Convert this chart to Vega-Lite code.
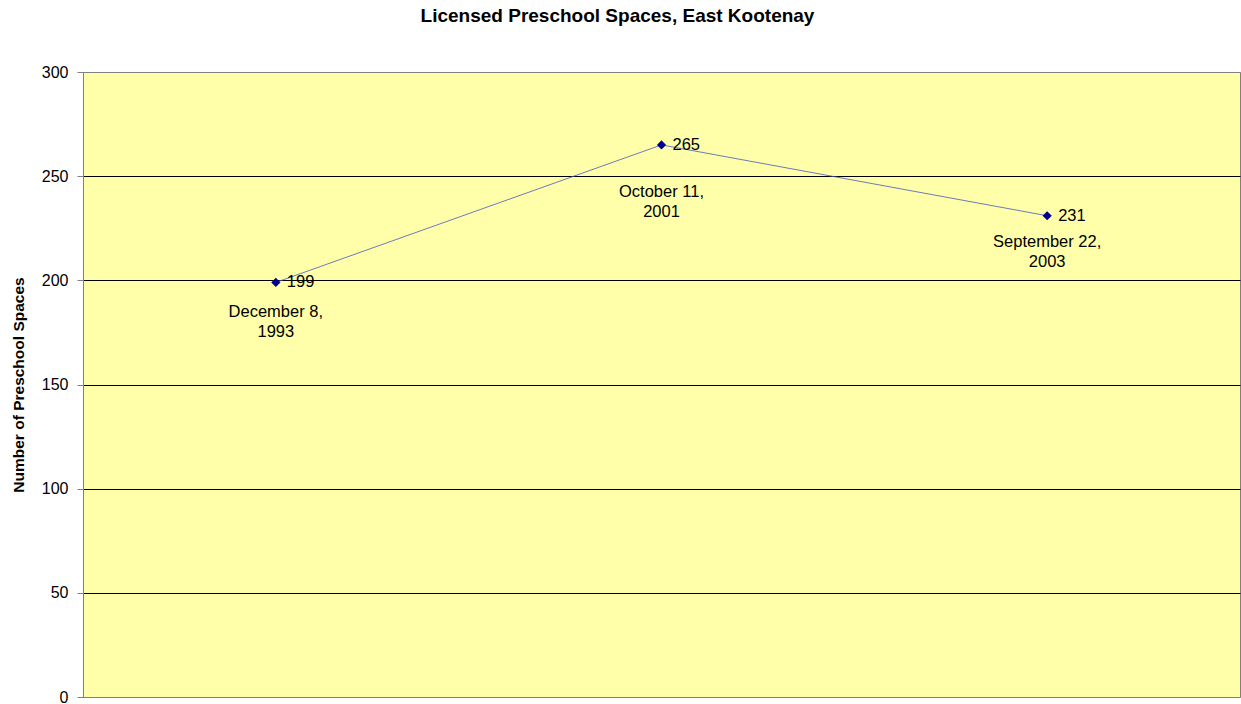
{
  "$schema": "https://vega.github.io/schema/vega-lite/v6.json",
  "width": 1157,
  "height": 625,
  "autosize": {"type": "none"},
  "padding": {"left": 83, "top": 72, "right": 1, "bottom": 7},
  "background": "white",
  "title": {
    "text": "Licensed Preschool Spaces, East Kootenay",
    "font": "Liberation Sans",
    "fontSize": 19,
    "fontWeight": "bold",
    "color": "black",
    "anchor": "middle",
    "dx": -44,
    "offset": 38,
    "limit": 0
  },
  "config": {
    "view": {"fill": "#FFFFAA", "stroke": "#808080", "strokeWidth": 1},
    "text": {"font": "Liberation Sans", "fontSize": 16.5, "color": "black"}
  },
  "data": {
    "values": [
      {"date": "December 8, 1993", "label": "December 8,\n1993", "spaces": 199},
      {"date": "October 11, 2001", "label": "October 11,\n2001", "spaces": 265},
      {"date": "September 22, 2003", "label": "September 22,\n2003", "spaces": 231}
    ]
  },
  "encoding": {
    "x": {"field": "date", "type": "nominal", "sort": null, "scale": {"type": "point", "padding": 0.5}, "axis": null},
    "y": {
      "field": "spaces",
      "type": "quantitative",
      "scale": {"domain": [0, 300], "nice": false},
      "axis": {
        "values": [0, 50, 100, 150, 200, 250, 300],
        "title": "Number of Preschool Spaces",
        "titleFont": "Liberation Sans",
        "titleFontSize": 15.5,
        "titleFontWeight": "bold",
        "titleColor": "black",
        "titlePadding": 15,
        "labelFont": "Liberation Sans",
        "labelFontSize": 16,
        "labelColor": "black",
        "labelPadding": 9,
        "tickSize": 6,
        "tickColor": "#808080",
        "domainColor": "#808080",
        "grid": true,
        "gridColor": {"condition": {"test": "datum.value === 0 || datum.value === 300", "value": "#808080"}, "value": "black"},
        "gridOpacity": 1,
        "gridWidth": 1
      }
    }
  },
  "layer": [
    {"mark": {"type": "line", "color": "#4858BC", "strokeWidth": 0.8}},
    {"mark": {"type": "point", "shape": "diamond", "filled": true, "color": "#000090", "size": 85, "opacity": 1}},
    {"mark": {"type": "text", "align": "left", "baseline": "middle", "dx": 11}, "encoding": {"text": {"field": "spaces"}}},
    {
      "transform": [{"filter": "datum.spaces == 199"}],
      "mark": {"type": "text", "align": "center", "baseline": "top", "dy": 22, "lineBreak": "\n", "lineHeight": 20},
      "encoding": {"text": {"field": "label"}}
    },
    {
      "transform": [{"filter": "datum.spaces == 265"}],
      "mark": {"type": "text", "align": "center", "baseline": "top", "dy": 39, "lineBreak": "\n", "lineHeight": 20},
      "encoding": {"text": {"field": "label"}}
    },
    {
      "transform": [{"filter": "datum.spaces == 231"}],
      "mark": {"type": "text", "align": "center", "baseline": "top", "dy": 18, "lineBreak": "\n", "lineHeight": 20},
      "encoding": {"text": {"field": "label"}}
    }
  ]
}
